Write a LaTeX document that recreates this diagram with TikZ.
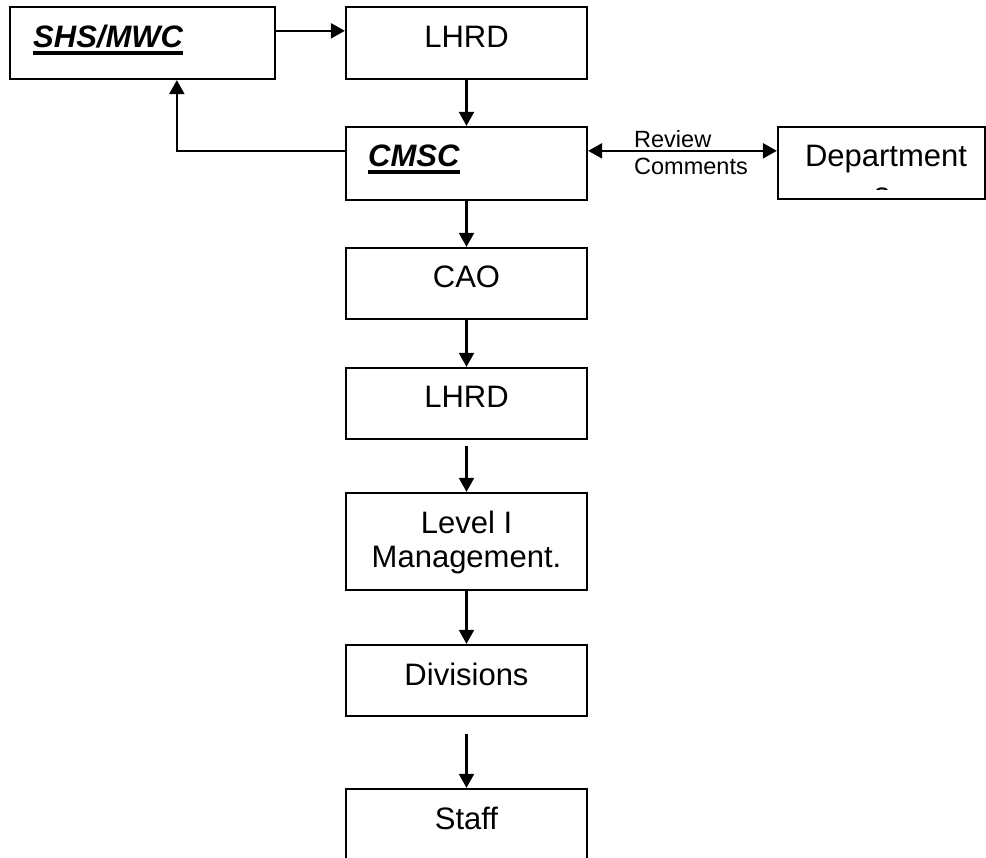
\documentclass[tikz,border=0pt]{standalone}
\usepackage{fontspec}
\setmainfont{Liberation Sans}
\usetikzlibrary{arrows.meta}
\begin{document}
\begin{tikzpicture}[x=1pt,y=-1pt,
  box/.style={draw, line width=2.3pt, inner sep=0pt, minimum width=241pt},
  lbl/.style={inner sep=0pt, anchor=base, font=\fontsize{31}{35}\selectfont},
  bilbl/.style={inner sep=0pt, anchor=base west, font=\fontsize{31}{35}\selectfont\bfseries\itshape},
  small/.style={inner sep=0pt, anchor=base west, font=\fontsize{23.5}{27}\selectfont},
  tip/.tip={Triangle[length=14pt,width=15pt]},
  flow/.style={line width=2.3pt, -tip},
  uline/.style={line width=3.2pt}]
\useasboundingbox (0,0) rectangle (986,858);

% boxes
\node[box, minimum width=265pt, minimum height=72pt] (shs) at (142.5,43) {};
\node[box, minimum height=72pt] (lhrd1) at (466.5,43) {};
\node[box, minimum height=73pt] (cmsc) at (466.5,163.5) {};
\node[box, minimum width=207pt, minimum height=72pt] (dept) at (881.5,163) {};
\node[box, minimum height=71pt] (cao) at (466.5,283.5) {};
\node[box, minimum height=71pt] (lhrd2) at (466.5,403.5) {};
\node[box, minimum height=97pt] (level) at (466.5,541.5) {};
\node[box, minimum height=71pt] (div) at (466.5,680.5) {};
\node[box, minimum height=80pt] (staff) at (466.5,829) {};

% labels
\node[bilbl] (tshs) at (33,48) {SHS/MWC};
\draw[uline] ([yshift=-5pt]tshs.base west) -- ([yshift=-5pt]tshs.base east);
\node[lbl] (tlhrd1) at (466.5,48) {LHRD};
\node[bilbl] (tcmsc) at (368,167) {CMSC};
\draw[uline] ([yshift=-5pt]tcmsc.base west) -- ([yshift=-5pt]tcmsc.base east);
\node[lbl] (tdept) at (886,167) {Department};
% second line of the department label, cut off by its text frame
\begin{scope}
  \clip (778,180) rectangle (985,189.5);
  \node[lbl] (tdepts) at (882,204.5) {s};
\end{scope}
\node[small] (trev) at (634,148) {Review};
\node[small] (tcom) at (634,175) {Comments};
\node[lbl] (tcao) at (466.5,288) {CAO};
\node[lbl] (tlhrd2) at (466.5,408) {LHRD};
\node[lbl] (tlev1) at (466.5,533) {Level I};
\node[lbl] (tlev2) at (466.5,567) {Management.};
\node[lbl] (tdiv) at (466.5,685) {Divisions};
\node[lbl] (tstaff) at (466.5,829) {Staff};

% connectors
\coordinate (shsin) at ([xshift=168pt]shs.south west);
\draw[flow] ([yshift=-25pt]shs.north east) -- ([yshift=-25pt]lhrd1.north west);
\draw[flow] (lhrd1) -- (cmsc);
\draw[flow] ([yshift=-25pt]cmsc.north west) -| (shsin);
\draw[line width=2.3pt, tip-tip] ([yshift=-25pt]cmsc.north east) -- ([yshift=-25pt]dept.north west);
\draw[flow] (cmsc) -- (cao);
\draw[flow] (cao) -- (lhrd2);
\draw[flow, shorten <=6pt] (lhrd2) -- (level);
\draw[flow] (level) -- (div);
\draw[flow, shorten <=17pt] (div) -- (staff);
\end{tikzpicture}
\end{document}
